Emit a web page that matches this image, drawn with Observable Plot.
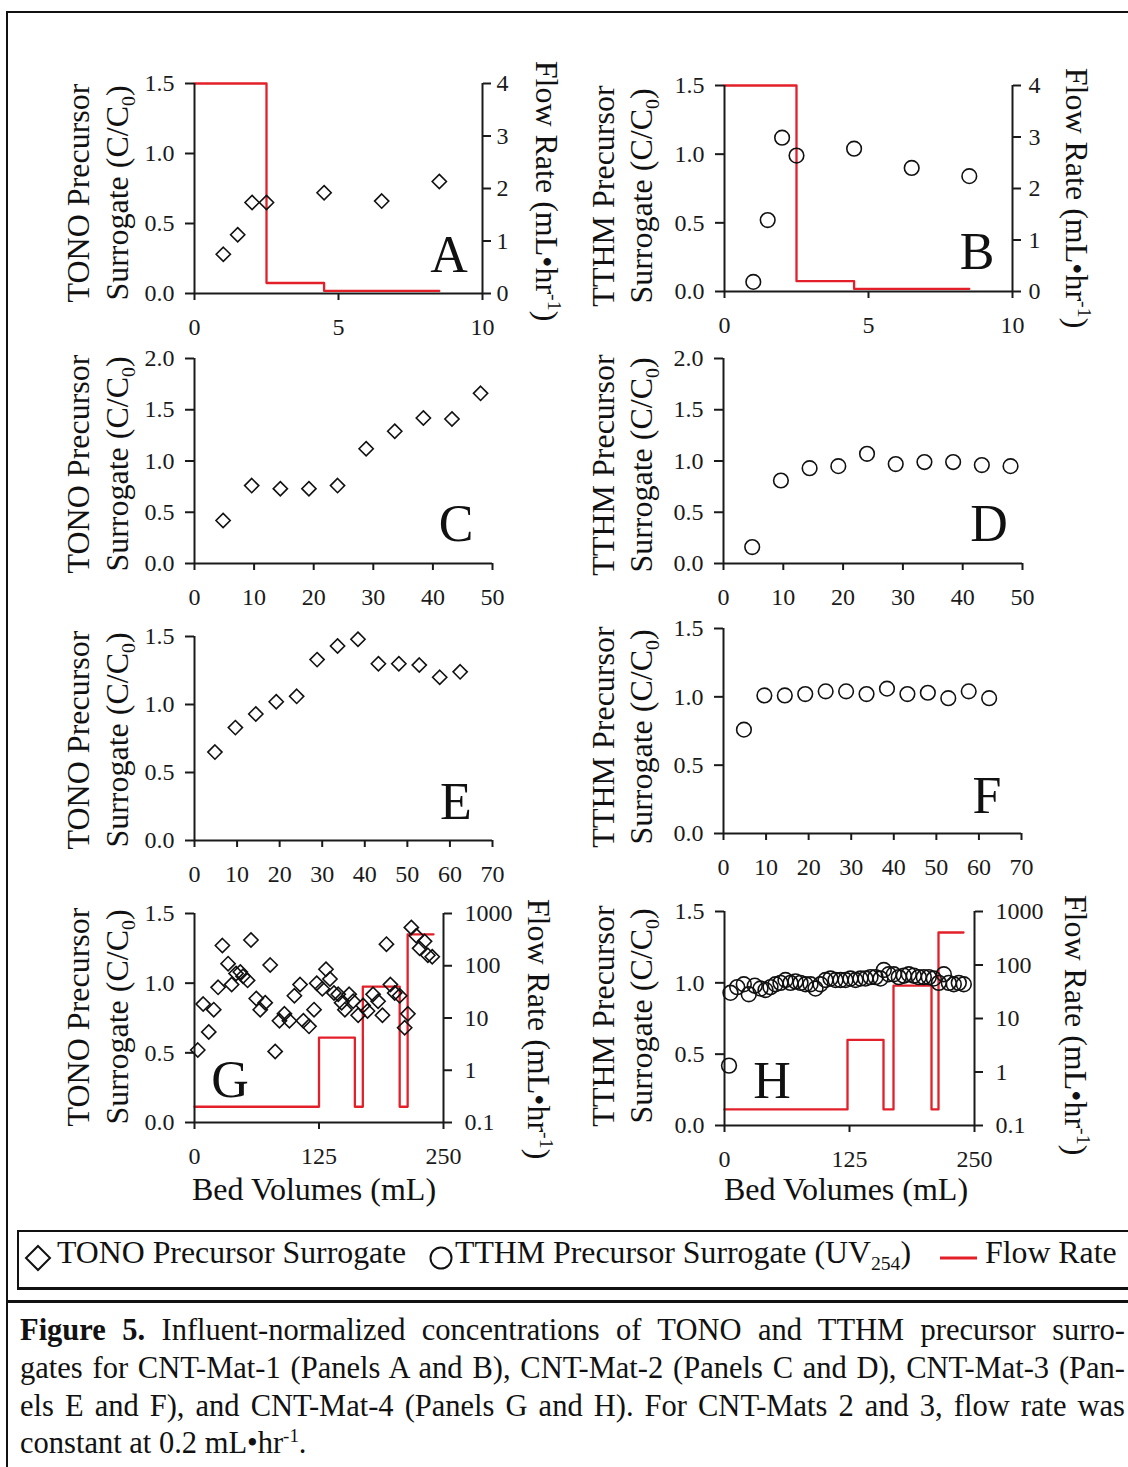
<!DOCTYPE html>
<html><head><meta charset="utf-8">
<script src="https://cdn.jsdelivr.net/npm/d3@7"></script>
<script src="https://cdn.jsdelivr.net/npm/@observablehq/plot@0.6"></script>
<style>
body{margin:0;background:#fff;}
#fig{position:relative;width:1128px;height:1467px;overflow:hidden;background:#fff;font-family:"Liberation Serif","Times New Roman",serif;color:#111;}
.abs{position:absolute;white-space:nowrap;line-height:1;}
.ttl{font-size:32px;}
.rotL{transform:translate(-50%,-50%) rotate(-90deg);}
.rotR{transform:translate(-50%,-50%) rotate(90deg);}
.ctr{transform:translateX(-50%);}
.letter{font-size:52px;}
sub,sup{font-size:0.62em;line-height:0;}
svg [aria-label$="-axis tick"]{stroke-width:2;}
.cap{position:absolute;left:20px;width:1105px;font-size:30.5px;line-height:1;white-space:nowrap;}
.just{text-align:justify;text-align-last:justify;}
</style></head><body><div id="fig"></div><script>
// ---------- data ----------
// Panels A/B (CNT-Mat-1)
const xAB = [1, 1.5, 2, 2.5, 4.5, 6.5, 8.5];
const tonoA = [0.28, 0.42, 0.65, 0.65, 0.72, 0.66, 0.80];
const tthmB = [0.07, 0.52, 1.12, 0.99, 1.04, 0.90, 0.84];
const flowXAB = [0, 2.5, 4.5, 8.5];
const flowAB = [4, 0.2, 0.05, 0.05];
// Panels C/D (CNT-Mat-2)
const xCD = [4.8, 9.6, 14.4, 19.2, 24, 28.8, 33.6, 38.4, 43.2, 48];
const tonoC = [0.42, 0.76, 0.73, 0.73, 0.76, 1.12, 1.29, 1.42, 1.41, 1.66];
const tthmD = [0.16, 0.81, 0.93, 0.95, 1.07, 0.97, 0.99, 0.99, 0.96, 0.95];
// Panels E/F (CNT-Mat-3)
const xEF = [4.8, 9.6, 14.4, 19.2, 24, 28.8, 33.6, 38.4, 43.2, 48, 52.8, 57.6, 62.4];
const tonoE = [0.65, 0.83, 0.93, 1.02, 1.06, 1.33, 1.43, 1.48, 1.30, 1.30, 1.29, 1.20, 1.24];
const tthmF = [0.76, 1.01, 1.01, 1.02, 1.04, 1.04, 1.02, 1.06, 1.02, 1.03, 0.99, 1.04, 0.99];
// Panel G (CNT-Mat-4, TONO)
const xG = [3.3, 8.7, 14.3, 19.3, 23.7, 28, 33.7, 37.3, 41.7, 46, 48.7, 53.3, 56.7, 62, 66, 71, 76, 81, 85.3, 90.3, 95.3, 100.3, 106, 109.3, 115, 120, 122.7, 128.3, 132, 136, 140, 144.3, 147.7, 151, 155.3, 159.3, 164.3, 169.3, 173.7, 179.3, 184.3, 188.7, 192.7, 196.7, 201, 206, 211, 214.3, 217.7, 222.7, 226, 231, 234.3, 238.7];
const tonoG = [0.52, 0.85, 0.65, 0.81, 0.97, 1.27, 1.14, 0.99, 1.07, 1.08, 1.05, 1.02, 1.31, 0.89, 0.81, 0.86, 1.13, 0.51, 0.73, 0.78, 0.73, 0.91, 0.99, 0.73, 0.69, 0.81, 1.00, 0.96, 1.10, 1.03, 0.93, 0.92, 0.86, 0.81, 0.92, 0.87, 0.77, 0.84, 0.80, 0.92, 0.87, 0.77, 1.28, 0.99, 0.93, 0.91, 0.68, 0.78, 1.40, 1.34, 1.25, 1.30, 1.20, 1.19];
// Panel H (CNT-Mat-4, TTHM)
const xH = [4.5, 6, 12.7, 19.3, 24.3, 30.3, 36, 41, 46, 51, 56, 61, 66, 71, 76, 81, 86, 91, 96, 101, 106, 111, 116, 121, 126, 131, 136, 141, 146, 151, 156, 159.3, 164.3, 169.3, 174.3, 179.3, 184.3, 189.3, 194.3, 199.3, 204.3, 209.3, 214.3, 219.3, 224.3, 229.3, 234.3, 239.3];
const tthmH = [0.42, 0.93, 0.97, 0.99, 0.92, 0.98, 0.96, 0.95, 0.97, 0.99, 1.00, 1.02, 1.00, 1.01, 1.00, 0.99, 0.99, 0.96, 0.99, 1.02, 1.03, 1.02, 1.02, 1.02, 1.03, 1.02, 1.03, 1.03, 1.04, 1.04, 1.03, 1.09, 1.06, 1.06, 1.04, 1.05, 1.06, 1.05, 1.04, 1.04, 1.04, 1.03, 1.00, 1.06, 1.00, 0.99, 1.00, 0.99];
// Flow rate steps for CNT-Mat-4
const flowXG = [0, 125, 161, 169, 206, 214, 240];
const flowG = [0.2, 4.2, 0.2, 40, 0.2, 400, 400];
const flowXH = [0, 123, 159, 169, 207, 214, 239];
const flowH = [0.2, 4, 0.2, 41, 0.2, 405, 405];
// tick values
const ticksY15 = [0, 0.5, 1.0, 1.5];
const ticksY20 = [0, 0.5, 1.0, 1.5, 2.0];
const ticksX10 = [0, 5, 10];
const ticksX50 = [0, 10, 20, 30, 40, 50];
const ticksX70 = [0, 10, 20, 30, 40, 50, 60, 70];
const ticksX250 = [0, 125, 250];
const ticksFlowLin = [0, 1, 2, 3, 4];
const ticksFlowLog = [0.1, 1, 10, 100, 1000];

// ---------- helpers ----------
const FONT = '"Liberation Serif","Times New Roman",serif';
const fig = document.getElementById("fig");
const rows = (xs, ys, k) => xs.map((x, i) => ({x, [k]: ys[i]}));

function place(el, left, top) {
  el.style.position = "absolute";
  el.style.left = left + "px";
  el.style.top = top + "px";
  fig.appendChild(el);
}
function txt(html, x, y, cls, extra) {
  const d = document.createElement("div");
  d.className = "abs " + (cls || "");
  d.innerHTML = html;
  d.style.left = x + "px";
  d.style.top = y + "px";
  if (extra) Object.assign(d.style, extra);
  fig.appendChild(d);
  return d;
}

function panel(cfg) {
  const ML = 150, MR = 110, MT = 30, MB = 60;
  const left = cfg.x0 - ML, top = cfg.yt - MT;
  const width = cfg.x1 - cfg.x0 + ML + MR, height = cfg.yb - cfg.yt + MT + MB;
  const common = {
    width, height, marginLeft: ML, marginRight: MR, marginTop: MT, marginBottom: MB,
    style: {fontFamily: FONT, fontSize: "24px", color: "#1a1a1a", background: "transparent", overflow: "visible"}
  };
  if (cfg.flow) {
    const fp = Plot.plot({
      ...common,
      x: {domain: cfg.xDomain, axis: null},
      y: {type: cfg.flowLog ? "log" : "linear", domain: cfg.flowDomain, ticks: cfg.flowTicks,
          tickFormat: d => String(d), axis: "right", tickSize: 8, tickPadding: cfg.flowPad, label: null},
      marks: [
        Plot.ruleX([cfg.xDomain[1]], {stroke: "#1a1a1a", strokeWidth: 2}),
        Plot.line(cfg.flow, {x: "x", y: "q", curve: "step-after", stroke: "#e3202a", strokeWidth: 2.3})
      ]
    });
    place(fp, left, top);
  }
  const mp = Plot.plot({
    ...common,
    x: {domain: cfg.xDomain, ticks: cfg.xTicks, tickFormat: d => String(d), tickSize: 7, tickPadding: 17, label: null},
    y: {domain: cfg.yDomain, ticks: cfg.yTicks, tickFormat: d3.format(".1f"), tickSize: 9, tickPadding: 11, label: null},
    marks: [
      Plot.ruleX([cfg.xDomain[0]], {stroke: "#1a1a1a", strokeWidth: 2}),
      Plot.ruleY([cfg.yDomain[0]], {stroke: "#1a1a1a", strokeWidth: 2}),
      Plot.dot(cfg.data, {x: "x", y: "c", symbol: cfg.symbol, r: cfg.r, stroke: "#111", strokeWidth: 1.6, fill: "none"})
    ]
  });
  place(mp, left, top);
  // panel letter
  txt(cfg.letter, cfg.lx, cfg.ly - 43.5, "letter ctr");
  // y titles
  const t1 = cfg.kind === "tono" ? "TONO Precursor" : "TTHM Precursor";
  txt(t1, cfg.tx1, cfg.ty, "ttl rotL");
  txt("Surrogate (C/C<sub>0</sub>)", cfg.tx2, cfg.ty, "ttl rotL");
  if (cfg.flow) txt("Flow Rate (mL•hr<sup>-1</sup>)", cfg.fx, cfg.fy, "ttl rotR");
  if (cfg.xTitle) txt("Bed Volumes (mL)", cfg.xtx, cfg.xty - 26.8, "ttl ctr");
}

// ---------- frame ----------
const outer = document.createElement("div");
Object.assign(outer.style, {position: "absolute", left: "6px", top: "11px", width: "1140px", height: "1470px", border: "2px solid #111", boxSizing: "border-box"});
fig.appendChild(outer);
const sep = document.createElement("div");
Object.assign(sep.style, {position: "absolute", left: "6px", top: "1300px", width: "1130px", height: "3px", background: "#111"});
fig.appendChild(sep);

// ---------- panels ----------
const L1 = 78, L2 = 117, R1 = 603, R2 = 641;
panel({letter: "A", kind: "tono", x0: 194, x1: 482, yt: 83, yb: 293, xDomain: [0, 10], xTicks: ticksX10,
  yDomain: [0, 1.5], yTicks: ticksY15, data: rows(xAB, tonoA, "c"), symbol: "diamond2", r: 6.4,
  flow: rows(flowXAB, flowAB, "q"), flowDomain: [0, 4], flowTicks: ticksFlowLin, flowPad: 6,
  lx: 449, ly: 272, tx1: L1, tx2: L2, ty: 193, fx: 547, fy: 191});
panel({letter: "B", kind: "tthm", x0: 724, x1: 1012, yt: 85, yb: 291, xDomain: [0, 10], xTicks: ticksX10,
  yDomain: [0, 1.5], yTicks: ticksY15, data: rows(xAB, tthmB, "c"), symbol: "circle", r: 7.3,
  flow: rows(flowXAB, flowAB, "q"), flowDomain: [0, 4], flowTicks: ticksFlowLin, flowPad: 8,
  lx: 977, ly: 269, tx1: R1, tx2: R2, ty: 196, fx: 1077, fy: 198});
panel({letter: "C", kind: "tono", x0: 194, x1: 492, yt: 358, yb: 563, xDomain: [0, 50], xTicks: ticksX50,
  yDomain: [0, 2], yTicks: ticksY20, data: rows(xCD, tonoC, "c"), symbol: "diamond2", r: 6.4,
  lx: 456, ly: 541, tx1: L1, tx2: L2, ty: 464});
panel({letter: "D", kind: "tthm", x0: 723, x1: 1022, yt: 358, yb: 563, xDomain: [0, 50], xTicks: ticksX50,
  yDomain: [0, 2], yTicks: ticksY20, data: rows(xCD, tthmD, "c"), symbol: "circle", r: 7.3,
  lx: 989, ly: 541, tx1: R1, tx2: R2, ty: 465});
panel({letter: "E", kind: "tono", x0: 194, x1: 492, yt: 636, yb: 840, xDomain: [0, 70], xTicks: ticksX70,
  yDomain: [0, 1.5], yTicks: ticksY15, data: rows(xEF, tonoE, "c"), symbol: "diamond2", r: 6.4,
  lx: 456, ly: 819, tx1: L1, tx2: L2, ty: 740});
panel({letter: "F", kind: "tthm", x0: 723, x1: 1021, yt: 628, yb: 833, xDomain: [0, 70], xTicks: ticksX70,
  yDomain: [0, 1.5], yTicks: ticksY15, data: rows(xEF, tthmF, "c"), symbol: "circle", r: 7.3,
  lx: 987, ly: 813, tx1: R1, tx2: R2, ty: 737});
panel({letter: "G", kind: "tono", x0: 194, x1: 443, yt: 913, yb: 1122, xDomain: [0, 250], xTicks: ticksX250,
  yDomain: [0, 1.5], yTicks: ticksY15, data: rows(xG, tonoG, "c"), symbol: "diamond2", r: 6.4,
  flow: rows(flowXG, flowG, "q"), flowLog: true, flowDomain: [0.1, 1000], flowTicks: ticksFlowLog, flowPad: 13,
  lx: 230, ly: 1097, tx1: L1, tx2: L2, ty: 1017, fx: 539, fy: 1029, xTitle: true, xtx: 314, xty: 1200});
panel({letter: "H", kind: "tthm", x0: 724, x1: 974, yt: 911, yb: 1125, xDomain: [0, 250], xTicks: ticksX250,
  yDomain: [0, 1.5], yTicks: ticksY15, data: rows(xH, tthmH, "c"), symbol: "circle", r: 7.4,
  flow: rows(flowXH, flowH, "q"), flowLog: true, flowDomain: [0.1, 1000], flowTicks: ticksFlowLog, flowPad: 13,
  lx: 772, ly: 1098, tx1: R1, tx2: R2, ty: 1016, fx: 1076, fy: 1025, xTitle: true, xtx: 846, xty: 1200});

// ---------- legend ----------
const lg = document.createElement("div");
Object.assign(lg.style, {position: "absolute", left: "17px", top: "1230px", width: "1130px", height: "60px", border: "2px solid #111", borderBottomWidth: "3px", boxSizing: "border-box"});
fig.appendChild(lg);
const NS = "http://www.w3.org/2000/svg";
const lsvg = document.createElementNS(NS, "svg");
lsvg.setAttribute("width", "1128"); lsvg.setAttribute("height", "60");
Object.assign(lsvg.style, {position: "absolute", left: "0px", top: "1228px"});
lsvg.innerHTML = '<path d="M38,18 L50,30 L38,42 L26,30 Z" fill="none" stroke="#111" stroke-width="2"/>' +
  '<circle cx="441" cy="30" r="10.5" fill="none" stroke="#111" stroke-width="2"/>' +
  '<line x1="940" x2="977" y1="30" y2="30" stroke="#e3202a" stroke-width="3"/>';
fig.appendChild(lsvg);
txt("TONO Precursor Surrogate", 57, 1237, "", {fontSize: "31.8px"});
txt("TTHM Precursor Surrogate (UV<sub>254</sub>)", 455, 1237, "", {fontSize: "31.8px"});
txt("Flow Rate", 985, 1237, "", {fontSize: "31.8px"});

// ---------- caption ----------
const capLines = [
  ["<b>Figure 5.</b> Influent-normalized concentrations of TONO and TTHM precursor surro-", true, 1340],
  ["gates for CNT-Mat-1 (Panels A and B), CNT-Mat-2 (Panels C and D), CNT-Mat-3 (Pan-", true, 1378],
  ["els E and F), and CNT-Mat-4 (Panels G and H). For CNT-Mats 2 and 3, flow rate was", true, 1416],
  ["constant at 0.2 mL•hr<sup>-1</sup>.", false, 1453]
];
capLines.forEach(([h, j, b]) => {
  const d = document.createElement("div");
  d.className = "cap" + (j ? " just" : "");
  d.innerHTML = h;
  d.style.top = (b - 25.5) + "px";
  fig.appendChild(d);
});
</script></body></html>
